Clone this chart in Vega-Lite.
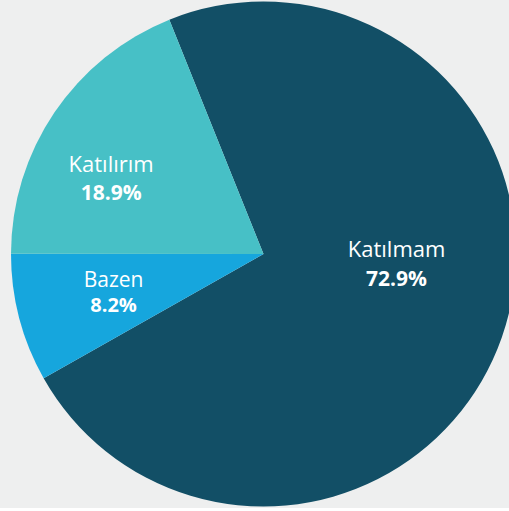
{
  "$schema": "https://vega.github.io/schema/vega-lite/v6.json",
  "width": 491,
  "height": 508,
  "autosize": {"type": "none"},
  "padding": {"left": 18, "top": 0, "right": 0, "bottom": 0},
  "background": "#eeefef",
  "config": {"view": {"stroke": null}, "text": {"font": "Open Sans"}},
  "data": {"values": [
    {"category": "Katılmam", "pct": 72.9, "label": "72.9%", "order": 1},
    {"category": "Bazen", "pct": 8.2, "label": "8.2%", "order": 2},
    {"category": "Katılırım", "pct": 18.9, "label": "18.9%", "order": 3}
  ]},
  "encoding": {
    "theta": {"field": "pct", "type": "quantitative", "stack": true, "scale": {"range": [-0.3822, 5.9010]}},
    "order": {"field": "order", "type": "quantitative"},
    "color": {"field": "category", "type": "nominal", "legend": null,
      "scale": {"domain": ["Katılmam", "Bazen", "Katılırım"], "range": ["#124f66", "#16a6dd", "#47c0c6"]}}
  },
  "layer": [
    {"mark": {"type": "arc", "outerRadius": 252.5}},
    {"mark": {"type": "text", "radius": 141, "dy": -51, "fontSize": 22, "fill": "white"},
     "encoding": {"color": {"value": "white"}, "text": {"condition": {"test": "datum.category === 'Katılmam'", "field": "category"}, "value": ""}}},
    {"mark": {"type": "text", "radius": 141, "dy": -21, "fontSize": 21, "fontWeight": "bold", "fill": "white"},
     "encoding": {"color": {"value": "white"}, "text": {"condition": {"test": "datum.category === 'Katılmam'", "field": "label"}, "value": ""}}},
    {"mark": {"type": "text", "radius": 184, "dy": 14, "fontSize": 22, "fill": "white"},
     "encoding": {"color": {"value": "white"}, "text": {"condition": {"test": "datum.category === 'Katılırım'", "field": "category"}, "value": ""}}},
    {"mark": {"type": "text", "radius": 184, "dy": 43, "fontSize": 21, "fontWeight": "bold", "fill": "white"},
     "encoding": {"color": {"value": "white"}, "text": {"condition": {"test": "datum.category === 'Katılırım'", "field": "label"}, "value": ""}}},
    {"mark": {"type": "text", "radius": 155, "dy": -12, "fontSize": 21, "fill": "white"},
     "encoding": {"color": {"value": "white"}, "text": {"condition": {"test": "datum.category === 'Bazen'", "field": "category"}, "value": ""}}},
    {"mark": {"type": "text", "radius": 155, "dy": 13, "fontSize": 20, "fontWeight": "bold", "fill": "white"},
     "encoding": {"color": {"value": "white"}, "text": {"condition": {"test": "datum.category === 'Bazen'", "field": "label"}, "value": ""}}}
  ]
}
